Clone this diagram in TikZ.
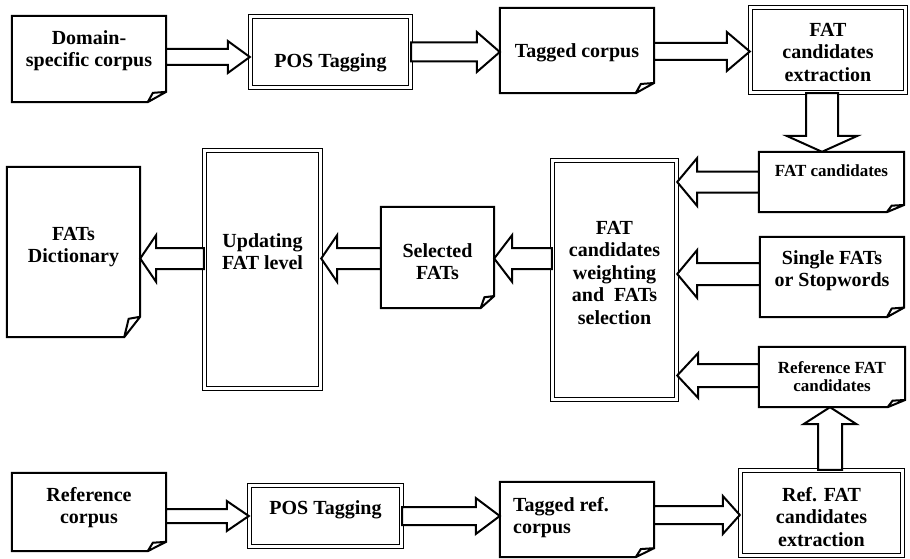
\documentclass[tikz,border=0pt]{standalone}
\usepackage{fontspec}
\setmainfont{Liberation Serif}
\usetikzlibrary{calc}
% horizontal block arrow: start, tip, node giving y, dy (up +), shaft half, head half, head length
\newcommand\harr[7]{\draw[blk] let \p1=(#1), \p2=(#2), \p3=(#3), \n1={sign(\x2-\x1)}, \n2={\y3+(#4)*1pt} in
  (\x1,{\n2+(#5)*1pt}) -- ({\x2-\n1*(#7)*1pt},{\n2+(#5)*1pt}) -- ({\x2-\n1*(#7)*1pt},{\n2+(#6)*1pt})
  -- (\x2,\n2) -- ({\x2-\n1*(#7)*1pt},{\n2-(#6)*1pt}) -- ({\x2-\n1*(#7)*1pt},{\n2-(#5)*1pt})
  -- (\x1,{\n2-(#5)*1pt}) -- cycle;}
% vertical block arrow: start, tip, node giving x, dx (right +), shaft half, head half, head length
\newcommand\varr[7]{\draw[blk] let \p1=(#1), \p2=(#2), \p3=(#3), \n1={sign(\y2-\y1)}, \n2={\x3+(#4)*1pt} in
  ({\n2+(#5)*1pt},\y1) -- ({\n2+(#5)*1pt},{\y2-\n1*(#7)*1pt}) -- ({\n2+(#6)*1pt},{\y2-\n1*(#7)*1pt})
  -- (\n2,\y2) -- ({\n2-(#6)*1pt},{\y2-\n1*(#7)*1pt}) -- ({\n2-(#5)*1pt},{\y2-\n1*(#7)*1pt})
  -- ({\n2-(#5)*1pt},\y1) -- cycle;}
% document outline with folded corner
\newcommand\docoutline[1]{\draw[ln] let \p1=(#1.south west), \p2=(#1.north east),
  \n1={0.12*(\x2-\x1)}, \n2={0.12*(\y2-\y1)} in
  (\x1,\y1) -- (\x1,\y2) -- (\x2,\y2) -- (\x2,{\y1+\n2}) -- ({\x2-\n1},\y1) -- cycle
  ({\x2-\n1},\y1) -- ({\x2-0.72*\n1},{\y1+0.9*\n2}) -- (\x2,{\y1+\n2});}
\begin{document}
\begin{tikzpicture}[x=1pt,y=-1pt,
  ln/.style={line width=2pt, line join=miter},
  blk/.style={draw, fill=white, line width=2pt, line join=miter, miter limit=10},
  docbox/.style={inner sep=0pt, draw=none},
  dbl/.style={draw, line width=1.4pt, double, double distance=2.3pt, inner sep=0pt},
  txt/.style={inner sep=0pt, align=center, anchor=north, font=\fontsize{20}{22.5}\selectfont\bfseries},
  stxt/.style={txt, font=\fontsize{17}{18.5}\selectfont\bfseries}]
\useasboundingbox (0,0) rectangle (910,559);
% boxes
\node[docbox, minimum width=154pt, minimum height=86pt] (dom) at (89,59) {};
\node[dbl, minimum width=160pt, minimum height=71pt] (pos1) at (330.5,52) {};
\node[docbox, minimum width=154pt, minimum height=85pt] (tag) at (577,50.5) {};
\node[dbl, minimum width=155pt, minimum height=85pt] (ext) at (828,50) {};
\node[docbox, minimum width=145pt, minimum height=60pt] (fatc) at (831.5,182) {};
\node[dbl, minimum width=124pt, minimum height=239pt] (big) at (614.5,280) {};
\node[docbox, minimum width=144pt, minimum height=80pt] (single) at (832,277) {};
\node[docbox, minimum width=146pt, minimum height=60pt] (refc) at (832,377) {};
\node[docbox, minimum width=113pt, minimum height=101pt] (sel) at (437.5,257.5) {};
\node[dbl, minimum width=116pt, minimum height=238pt] (upd) at (262.5,269.5) {};
\node[docbox, minimum width=133pt, minimum height=170pt] (dict) at (73.5,252) {};
\node[docbox, minimum width=154pt, minimum height=78pt] (refcorp) at (89,512) {};
\node[dbl, minimum width=152pt, minimum height=61pt] (pos2) at (325.5,516) {};
\node[docbox, minimum width=154pt, minimum height=75pt] (tagref) at (577,519.5) {};
\node[dbl, minimum width=162pt, minimum height=85pt] (refext) at (821.5,513) {};
\docoutline{dom}
\docoutline{tag}
\docoutline{fatc}
\docoutline{single}
\docoutline{refc}
\docoutline{sel}
\docoutline{dict}
\docoutline{refcorp}
\docoutline{tagref}
% texts
\node[txt] (domt) at (89,30) {Domain-\\specific corpus};
\node[txt] (pos1t) at (330.5,53) {POS Tagging};
\node[txt] (tagt) at (577,43) {Tagged corpus};
\node[txt] (extt) at (828,23) {FAT\\candidates\\extraction};
\node[stxt] (fatct) at (831.5,165) {FAT candidates};
\node[txt] (bigt) at (614.5,221) {FAT\\candidates\\weighting\\and~ FATs\\selection};
\node[txt] (singlet) at (832,250) {Single FATs\\or Stopwords};
\node[stxt] (refct) at (832,361) {Reference FAT\\candidates};
\node[txt] (selt) at (437.5,243) {Selected\\FATs};
\node[txt] (updt) at (262.5,233) {Updating\\FAT level};
\node[txt] (dictt) at (73.5,227) {FATs\\Dictionary};
\node[txt] (refcorpt) at (89,487) {Reference\\corpus};
\node[txt] (pos2t) at (325.5,500) {POS Tagging};
\node[txt, anchor=north west, align=left] (tagreft) at (513,497) {Tagged ref.\\corpus};
\node[txt] (refextt) at (821.5,487) {Ref. FAT\\candidates\\extraction};
% arrows
\harr{dom.east}{pos1.west}{dom}{2}{8}{16}{22}
\harr{pos1.east}{tag.west}{pos1}{0}{9.5}{20}{23}
\harr{tag.east}{ext.west}{tag}{-1}{8.5}{19.5}{23}
\varr{ext.south}{fatc.north}{ext}{-6}{16}{35.5}{16}
\harr{fatc.west}{big.east}{fatc}{0}{10.5}{24}{20}
\harr{single.west}{big.east}{single}{3}{11}{24}{20}
\harr{refc.west}{big.east}{refc}{1.5}{11.5}{22.5}{21}
\harr{big.west}{sel.east}{sel}{-1}{10.5}{23.5}{18}
\harr{sel.west}{upd.east}{sel}{-1}{10.5}{23.5}{16}
\harr{upd.west}{dict.east}{upd}{11}{10.5}{23.5}{16}
\varr{refext.north}{refc.south}{refc}{-2}{12}{26.5}{17}
\harr{refcorp.east}{pos2.west}{pos2}{0}{7}{15}{22}
\harr{pos2.east}{tagref.west}{pos2}{0}{9}{18}{24}
\harr{tagref.east}{refext.west}{refext}{-2}{9}{19}{17}
\end{tikzpicture}
\end{document}
